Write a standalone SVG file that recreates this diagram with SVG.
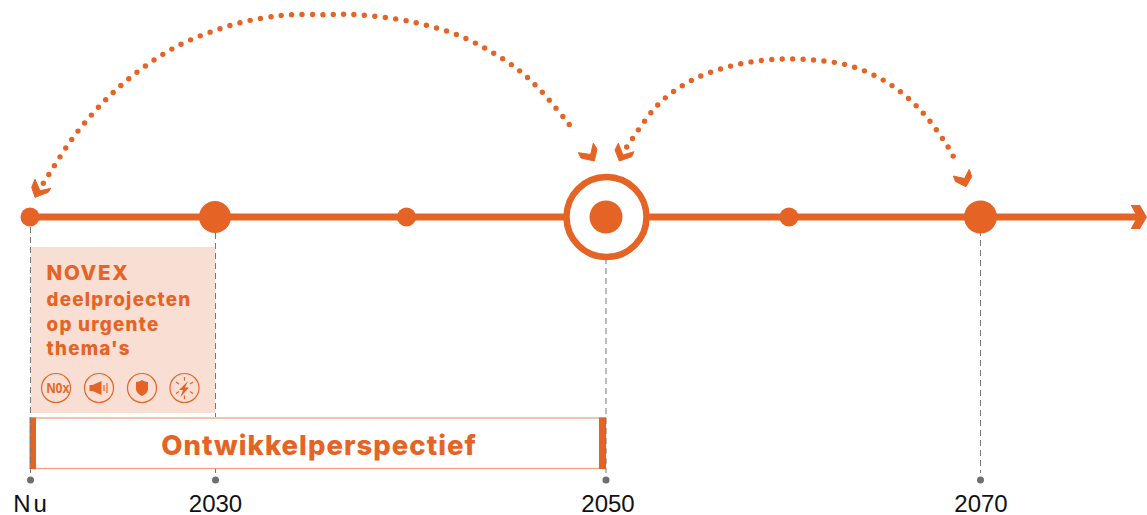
<svg xmlns="http://www.w3.org/2000/svg" width="1147" height="515" viewBox="0 0 1147 515">
<style>
.o{fill:#e56425}
.chev{fill:#e56425;stroke:#e56425;stroke-width:1;stroke-linejoin:miter}
.dots{fill:none;stroke:#e56425;stroke-width:5.400;stroke-linecap:round;stroke-dasharray:0 10.45}
.guide{fill:none;stroke:#77777b;stroke-width:1;stroke-dasharray:6 4}
.tick{fill:#6d6e72}
.yr{font-family:"Liberation Sans",Arial,sans-serif;font-size:24px;fill:#111;text-anchor:middle}
.h{font-family:Inter,"Liberation Sans",sans-serif;font-weight:800;fill:#e56425}
.ic{fill:none;stroke:#e56425;stroke-width:1.2}
</style>
<rect width="1147" height="515" fill="#fff"/>
<g id="novex-box">
<rect x="31" y="247" width="184" height="166" fill="#f8ded3"/>
<text class="h" x="46.500" y="280" font-size="20.500" letter-spacing="1.700">NOVEX</text>
<text class="h" x="46.500" y="306" font-size="18.800" letter-spacing="1.250">deelprojecten</text>
<text class="h" x="46.500" y="331" font-size="18.800" letter-spacing="1.250">op urgente</text>
<text class="h" x="46.500" y="355" font-size="18.800" letter-spacing="1.250">thema's</text>
</g>
<g id="icon-nox">
<circle class="ic" cx="56" cy="388" r="14.500"/>
<text x="58" y="393" font-family="'Liberation Sans',sans-serif" font-weight="700" font-size="14" fill="#e56425" text-anchor="middle" textLength="23" lengthAdjust="spacingAndGlyphs">N0x</text>
</g>
<g id="icon-noise">
<circle class="ic" cx="99" cy="388" r="14.500"/>
<path class="o" d="M89.500,385h3l9,-4v14l-9,-4h-3z"/>
<path class="ic" d="M104,385v6M107,383v10"/>
</g>
<g id="icon-shield">
<circle class="ic" cx="142" cy="388" r="14.500"/>
<path class="o" d="M136,382q3,0 6,-2q3,2 6,2v7q0,4 -6,7q-6,-3 -6,-7z"/>
</g>
<g id="icon-energy">
<circle class="ic" cx="184.500" cy="388" r="14.500"/>
<path class="o" d="M188,381l-9,9h4l-2.500,7 8.500,-9.500h-4z"/>
<path class="ic" d="M184.500,377v3.500M184.500,395.500v3.500M176,382l3,2M193,382l-3,2M176,393.500l3,-2M193,393.500l-3,-2"/>
</g>
<g id="ontwikkelperspectief">
<rect x="31.500" y="418" width="574" height="50.500" fill="#fff" stroke="#f0a27f" stroke-width="1.300"/>
<rect x="29.500" y="417.500" width="6.500" height="51.500" class="o"/>
<rect x="599" y="417.500" width="7" height="51.500" class="o"/>
<text class="h" x="319" y="455" font-size="27.500" letter-spacing="1" text-anchor="middle">Ontwikkelperspectief</text>
</g>
<g id="connectors">
<path class="guide" d="M30.500,217V473"/>
<path class="guide" d="M215.500,233V417M215.500,469V473"/>
<path class="guide" d="M606,258V473"/>
<path class="guide" d="M980.500,230V473"/>
<path d="M30,217H1140" fill="none" stroke="#e56425" stroke-width="7"/>
<path class="o" d="M1130.700,205H1140L1147,217 1140,229H1130.700L1137,217z"/>
<path class="dots" d="M43.300,183.300C49.100,174.500 65.200,147.100 78.300,130.700C91.400,114.300 105.900,98.400 121.700,84.700C137.500,71 155,58.300 173.300,48.300C191.600,38.300 213.400,30.500 231.700,25C250,19.500 267.700,17 283.300,15.300C298.900,13.600 313,14.800 325.300,14.700C337.600,14.600 343,13.600 357,14.700C371,15.800 392.100,17.750 409.300,21.300C426.500,24.900 443.900,29.400 460,36C476.100,42.600 493,52.300 506,61C519,69.700 527.300,76.800 538.300,88C549.300,99.200 566.600,121.300 572.300,128"/>
<path class="dots" d="M626.700,147C631.700,140.100 646.400,116.700 657,105.700C667.600,94.700 678.100,87.800 690,81.300C701.900,74.800 715.100,70.300 728.300,66.700C741.500,63.100 755.400,60.900 769,59.700C782.600,58.500 796.400,58.650 810,59.700C823.600,60.750 837.700,62.100 850.700,66C863.700,69.900 876.500,75.800 888,83C899.500,90.200 910.200,99.500 919.700,109.300C929.200,119.100 938.800,133.300 944.700,141.700C950.600,150.100 953.300,156.700 955,159.700"/>
<polygon class="chev" points="35,179.300 40,190.700 50.700,188.300 48.300,192.300 35,197.300 31.700,187.300"/>
<polygon class="chev" points="578.300,152.700 590.700,154.500 593.300,143.300 597,149 594.300,161 581,158"/>
<polygon class="chev" points="618.300,143.300 623,155 634,151.700 631.700,156.700 619.300,161 615,150"/>
<polygon class="chev" points="953.300,176 964.500,178.500 969.300,169.300 971.700,176.700 966,186.700 955.500,181.500"/>
</g>
<g id="nu"><circle class="o" cx="30" cy="217" r="9.500"/><circle class="tick" cx="30.500" cy="480" r="3.500"/><text class="yr" x="31.500" y="512" letter-spacing="3">Nu</text></g>
<g id="y2030"><circle class="o" cx="215" cy="217" r="16"/><circle class="tick" cx="215.500" cy="480" r="3.500"/><text class="yr" x="215.500" y="512">2030</text></g>
<g id="mid1"><circle class="o" cx="406.500" cy="217" r="9.500"/></g>
<g id="y2050"><circle cx="606.500" cy="217" r="40" fill="#fff" stroke="#e56425" stroke-width="6.500"/><circle class="o" cx="606" cy="217" r="16.500"/><circle class="tick" cx="606" cy="480" r="3.500"/><text class="yr" x="608" y="512">2050</text></g>
<g id="mid2"><circle class="o" cx="789" cy="217" r="9.500"/></g>
<g id="y2070"><circle class="o" cx="980.500" cy="217" r="16.500"/><circle class="tick" cx="980.500" cy="480" r="3.500"/><text class="yr" x="981" y="512">2070</text></g>
</svg>
